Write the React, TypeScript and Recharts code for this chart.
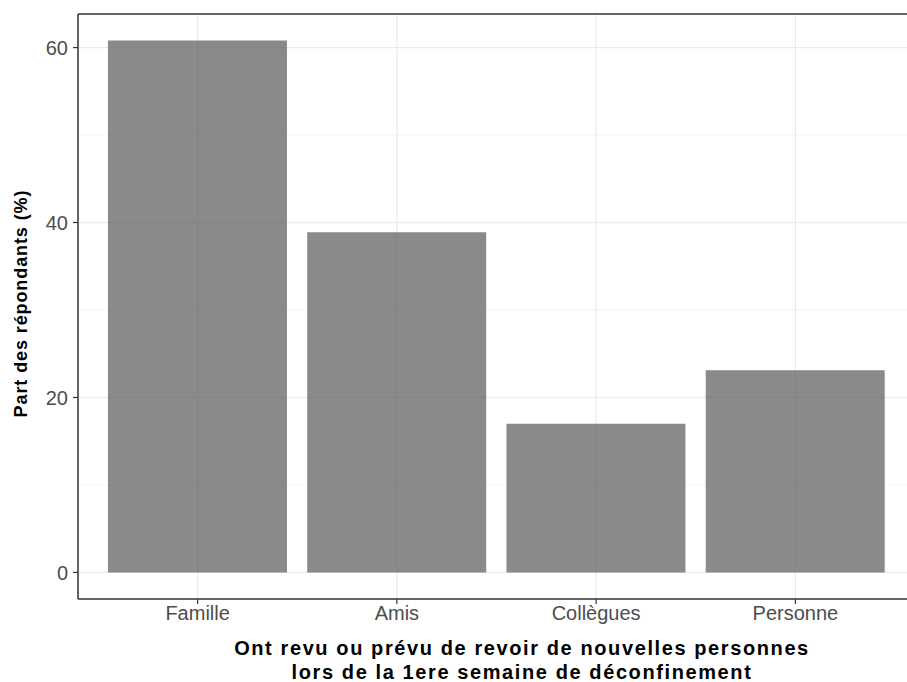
import React from "react";
import { BarChart, Bar, XAxis, YAxis, CartesianGrid, ReferenceLine } from "recharts";

const categories = ["Famille", "Amis", "Collègues", "Personne"];
const values = [60.8, 38.9, 17.0, 23.1];
const yTicks = [0, 20, 40, 60];
const minorTicks = [10, 30, 50];
const yDomain = [-3.04, 63.84];
const xTitleLines = [
  "Ont revu ou prévu de revoir de nouvelles personnes",
  "lors de la 1ere semaine de déconfinement",
];
const yTitle = "Part des répondants (%)";

const data = categories.map((c, i) => ({ cat: c, value: values[i] }));

const FONT = "'Liberation Sans', Arial, Helvetica, sans-serif";

const XTitle = (props: any) => {
  const vb = props.viewBox || {};
  const cx = 522;
  const y0 = vb.y + 56;
  return (
    <text
      x={cx}
      y={y0}
      textAnchor="middle"
      fontFamily={FONT}
      fontWeight="bold"
      fontSize={20}
      fill="#000"
      style={{ letterSpacing: "1.6px" }}
    >
      <tspan x={cx} dy={0}>{xTitleLines[0]}</tspan>
      <tspan x={cx} dy={23.5}>{xTitleLines[1]}</tspan>
    </text>
  );
};

const YTitle = (props: any) => {
  const vb = props.viewBox || {};
  const cx = 27;
  const cy = vb.y + vb.height / 2 - 3;
  return (
    <text
      x={cx}
      y={cy}
      textAnchor="middle"
      fontFamily={FONT}
      fontWeight="bold"
      fontSize={18}
      fill="#000"
      transform={`rotate(-90, ${cx}, ${cy})`}
      style={{ letterSpacing: "0.9px" }}
    >
      {yTitle}
    </text>
  );
};

export default function App() {
  return (
    <div
      style={{
        position: "fixed",
        left: 0,
        top: 0,
        width: 907,
        height: 682,
        overflow: "hidden",
        background: "#fff",
      }}
    >
      <BarChart
        width={930}
        height={682}
        data={data}
        margin={{ top: 14, right: 15, left: 8, bottom: 0 }}
        barCategoryGap="5%"
      >
        <CartesianGrid
          horizontalValues={minorTicks}
          vertical={false}
          stroke="#f4f4f4"
          strokeWidth={1}
        />
        <CartesianGrid stroke="#ebebeb" strokeWidth={1.2} horizontalValues={yTicks} />
        <XAxis
          dataKey="cat"
          height={83}
          padding={{ left: 20, right: 20 }}
          tickLine={{ stroke: "#333", strokeWidth: 1.2 }}
          axisLine={{ stroke: "#333", strokeWidth: 1.5 }}
          tickSize={5}
          tickMargin={2}
          tick={{ fill: "#4d4d4d", fontSize: 20, fontFamily: FONT }}
          label={<XTitle />}
        />
        <YAxis
          width={70}
          type="number"
          domain={yDomain}
          ticks={yTicks}
          allowDataOverflow
          tickLine={{ stroke: "#333", strokeWidth: 1.2 }}
          axisLine={{ stroke: "#333", strokeWidth: 1.5 }}
          tickSize={5}
          tickMargin={5}
          tick={{ fill: "#4d4d4d", fontSize: 20, fontFamily: FONT }}
          label={<YTitle />}
        />
        <ReferenceLine y={yDomain[1]} stroke="#333" strokeWidth={1.5} ifOverflow="visible" />
        <Bar dataKey="value" fill="#595959" fillOpacity={0.7} isAnimationActive={false} />
      </BarChart>
    </div>
  );
}
